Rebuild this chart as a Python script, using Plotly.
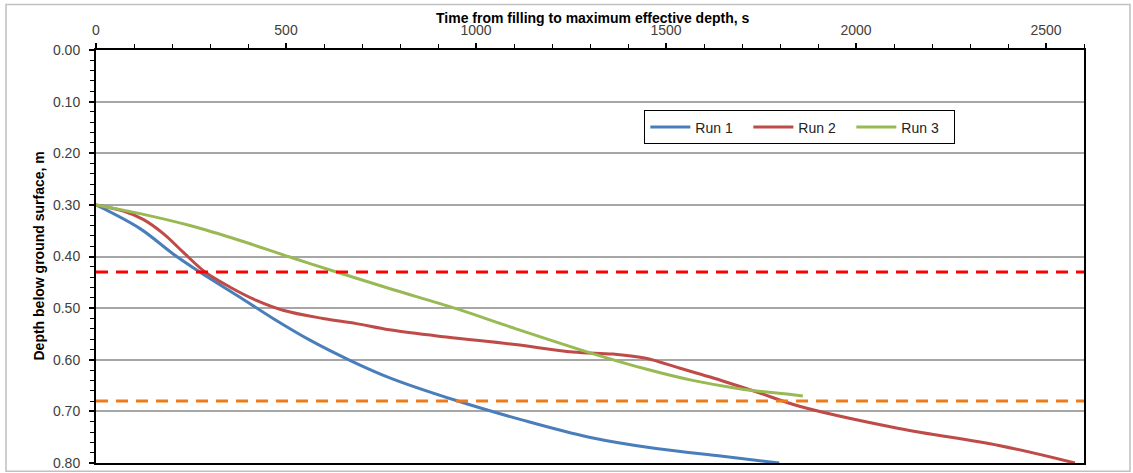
import plotly.graph_objects as go

# ---- data ----
run1_t = [0, 116, 203, 273, 379, 466, 563, 668, 773, 948, 1123, 1298, 1474, 1649, 1798]
run1_d = [0.300, 0.346, 0.395, 0.430, 0.479, 0.520, 0.562, 0.601, 0.635, 0.679, 0.717, 0.750, 0.772, 0.787, 0.800]

run2_t = [0, 72, 124, 178, 230, 287, 352, 422, 492, 597, 685, 772, 922, 1097, 1255, 1361, 1447, 1535, 1614, 1737, 1851, 2113, 2376, 2576]
run2_d = [0.300, 0.312, 0.328, 0.356, 0.392, 0.430, 0.459, 0.485, 0.504, 0.520, 0.530, 0.542, 0.556, 0.570, 0.585, 0.589, 0.597, 0.616, 0.633, 0.662, 0.690, 0.733, 0.766, 0.800]

run3_t = [0, 116, 247, 379, 510, 633, 772, 948, 1097, 1307, 1447, 1570, 1693, 1824, 1860]
run3_d = [0.300, 0.317, 0.340, 0.369, 0.401, 0.430, 0.462, 0.501, 0.538, 0.588, 0.618, 0.640, 0.656, 0.667, 0.670]

series_names = ["Run 1", "Run 2", "Run 3"]
series_colors = ["#4a7ebb", "#be4b48", "#98b954"]

threshold_depths = [0.43, 0.68]
threshold_colors = ["#ff0000", "#ee7a1a"]

x_title = "Time from filling to maximum effective depth, s"
y_title = "Depth below ground surface, m"

fig = go.Figure()
for name, t, d, c in zip(series_names, [run1_t, run2_t, run3_t], [run1_d, run2_d, run3_d], series_colors):
    fig.add_trace(go.Scatter(x=t, y=d, name=name, mode="lines",
                             line=dict(color=c, width=3, shape="spline", smoothing=1.0)))

tickfont = dict(family="Liberation Sans, Arial, sans-serif", size=14, color="#404040")

fig.update_layout(
    width=1133, height=473,
    margin=dict(l=96, r=49, t=50, b=10, autoexpand=False),
    paper_bgcolor="white", plot_bgcolor="white",
    showlegend=True,
    legend=dict(orientation="h", x=0.555, y=1 - (110 - 49.5) / 413.2, xanchor="left", yanchor="top",
                bordercolor="black", borderwidth=1, bgcolor="white",
                font=dict(family="Liberation Sans, Arial, sans-serif", size=14, color="#222222"),
                itemwidth=40, entrywidth=48, entrywidthmode="pixels", traceorder="normal"),
    xaxis=dict(range=[0, 2600], side="top", dtick=500, tick0=0, automargin=False,
               showgrid=False, zeroline=False,
               showline=True, linecolor="black", linewidth=2, mirror=True,
               ticks="outside", ticklen=5, tickcolor="black", tickwidth=1.5,
               ticklabelstandoff=2,
               minor=dict(dtick=100, ticks="outside", ticklen=4, tickcolor="black", tickwidth=1),
               tickfont=tickfont),
    yaxis=dict(range=[0.8, 0], dtick=0.1, tick0=0, tickformat=".2f", automargin=False,
               showgrid=True, gridcolor="#a6a6a6", gridwidth=1.5,
               zeroline=False,
               showline=True, linecolor="black", linewidth=2, mirror=True,
               ticks="outside", ticklen=5, tickcolor="black", tickwidth=1.5,
               ticklabelstandoff=6,
               minor=dict(dtick=0.02, ticks="outside", ticklen=4, tickcolor="black", tickwidth=1, showgrid=False),
               tickfont=tickfont),
    annotations=[
        dict(text="<b>" + x_title + "</b>", xref="paper", yref="paper", x=(592 - 96) / 988, y=1 + (49.5 - 17) / 413.2,
             xanchor="center", yanchor="middle", showarrow=False,
             font=dict(family="Liberation Sans Narrow, Arial Narrow, sans-serif", size=14, color="black")),
        dict(text="<b>" + y_title + "</b>", xref="paper", yref="paper", x=(38 - 96) / 988, y=0.5,
             xanchor="center", yanchor="middle", showarrow=False, textangle=-90,
             font=dict(family="Liberation Sans Narrow, Arial Narrow, sans-serif", size=14, color="black")),
    ],
)

fig.add_shape(type="rect", xref="paper", yref="paper",
              x0=(6 - 96) / 988, x1=(1130 - 96) / 988,
              y0=1 - (471 - 49.5) / 413.2, y1=1 + (49.5 - 4) / 413.2,
              line=dict(color="#c0c0c0", width=1.5), layer="below")

for yv, c in zip(threshold_depths, threshold_colors):
    fig.add_hline(y=yv, line=dict(color=c, width=3, dash="12px,8px"), layer="above")

fig.write_html("out.html", config={"displayModeBar": False},
               post_script="document.body.style.margin='0px';")
